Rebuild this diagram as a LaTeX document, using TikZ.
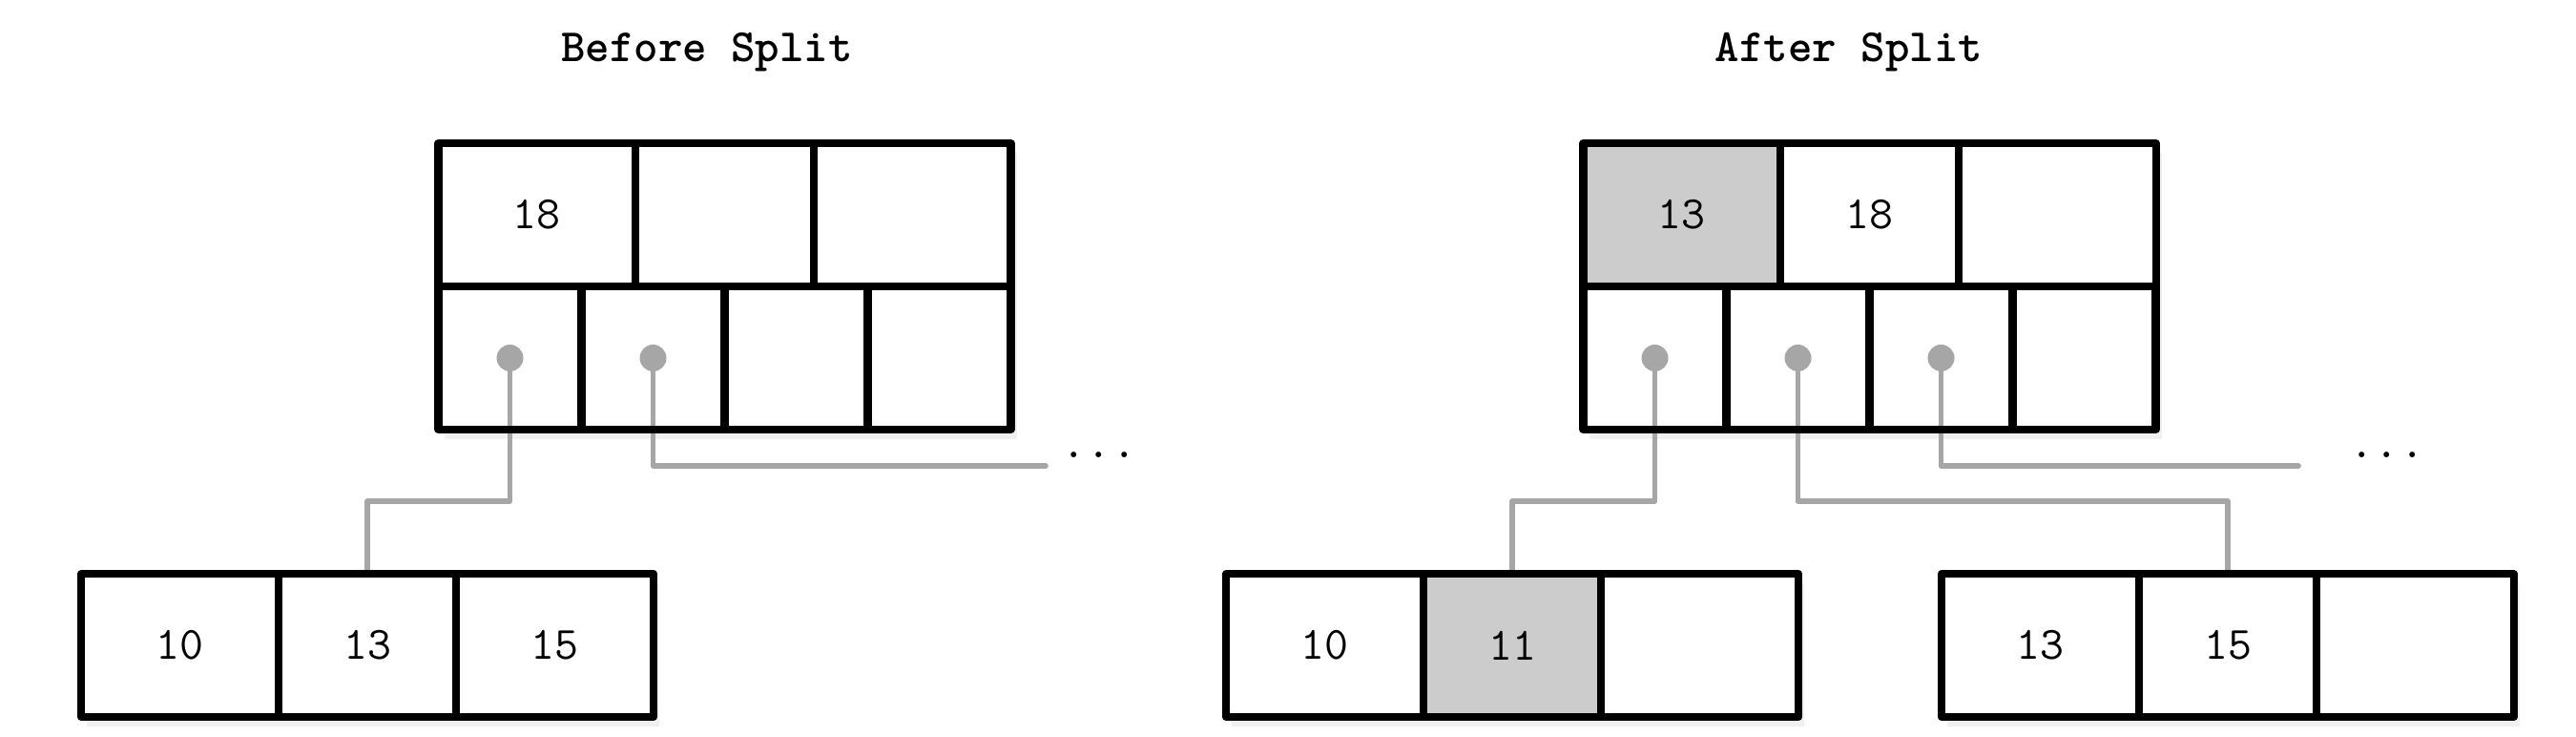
\documentclass[tikz,border=0pt]{standalone}
\usetikzlibrary{positioning,fit,shadows,backgrounds}

\begin{document}
\begin{tikzpicture}[
  cell/.style={draw, line width=2.3pt, line join=round, outer sep=0pt, inner sep=0pt, minimum height=1.5cm, font=\ttfamily\fontsize{13.8}{16}\selectfont},
  wide/.style={cell, minimum width=2.0675cm},
  slim/.style={cell, minimum width=1.865cm},
  ptr/.style={cell, minimum width=1.5cm},
  hit/.style={fill=black!20},
  title/.style={anchor=base, font=\ttfamily\bfseries\fontsize{13.8}{16}\selectfont},
  more/.style={inner sep=0pt, font=\fontsize{16.6}{20}\selectfont},
  link/.style={draw=black!35, line width=1.6pt, line cap=round, line join=round},
  ptrdot/.style={fill=black!35},
  boxshadow/.style={inner sep=0pt, fill=white, drop shadow={shadow xshift=0.06cm, shadow yshift=-0.1cm, opacity=0.12}}
]
\useasboundingbox (0,0) rectangle (27,7.71);

% before split
\node[title] (before) at (7.41,7.06) {Before Split};
\node[wide, anchor=north west] (tl-k1) at (4.595,6.21) {18};
\node[slim, right=0pt of tl-k1] (tl-k2) {};
\node[wide, right=0pt of tl-k2] (tl-k3) {};
\node[ptr, anchor=north west] (tl-p1) at (tl-k1.south west) {};
\node[ptr, right=0pt of tl-p1] (tl-p2) {};
\node[ptr, right=0pt of tl-p2] (tl-p3) {};
\node[ptr, right=0pt of tl-p3] (tl-p4) {};

\node[wide, anchor=north west] (bl-k1) at (0.85,1.70) {10};
\node[slim, right=0pt of bl-k1] (bl-k2) {13};
\node[wide, right=0pt of bl-k2] (bl-k3) {15};

\coordinate (tl-end) at (10.96,2.83);
\node[more] (tl-more) at (11.52,2.94) {$\ldots$};

% after split
\node[title] (after) at (19.38,7.06) {After Split};
\node[wide, hit, anchor=north west] (tr-k1) at (16.595,6.21) {13};
\node[slim, right=0pt of tr-k1] (tr-k2) {18};
\node[wide, right=0pt of tr-k2] (tr-k3) {};
\node[ptr, anchor=north west] (tr-p1) at (tr-k1.south west) {};
\node[ptr, right=0pt of tr-p1] (tr-p2) {};
\node[ptr, right=0pt of tr-p2] (tr-p3) {};
\node[ptr, right=0pt of tr-p3] (tr-p4) {};

\node[wide, anchor=north west] (bm-k1) at (12.85,1.70) {10};
\node[slim, hit, right=0pt of bm-k1] (bm-k2) {11};
\node[wide, right=0pt of bm-k2] (bm-k3) {};

\node[wide, anchor=north west] (br-k1) at (20.35,1.70) {13};
\node[slim, right=0pt of br-k1] (br-k2) {15};
\node[wide, right=0pt of br-k2] (br-k3) {};

\coordinate (tr-end) at (24.09,2.83);
\node[more] (tr-more) at (25.02,2.94) {$\ldots$};

\fill[ptrdot] (tl-p1.center) circle (0.14cm);
\fill[ptrdot] (tl-p2.center) circle (0.14cm);
\fill[ptrdot] (tr-p1.center) circle (0.14cm);
\fill[ptrdot] (tr-p2.center) circle (0.14cm);
\fill[ptrdot] (tr-p3.center) circle (0.14cm);

\begin{scope}[on background layer]
  \node[boxshadow, fit=(tl-k1)(tl-p4)] {};
  \node[boxshadow, fit=(bl-k1)(bl-k3)] {};
  \node[boxshadow, fit=(tr-k1)(tr-p4)] {};
  \node[boxshadow, fit=(bm-k1)(bm-k3)] {};
  \node[boxshadow, fit=(br-k1)(br-k3)] {};
  \draw[link] (tl-p1.center) -- ++(0,-1.5) -| (bl-k2.north);
  \draw[link] (tl-p2.center) |- (tl-end);
  \draw[link] (tr-p1.center) -- ++(0,-1.5) -| (bm-k2.north);
  \draw[link] (tr-p2.center) -- ++(0,-1.5) -| (br-k2.north);
  \draw[link] (tr-p3.center) |- (tr-end);
\end{scope}
\end{tikzpicture}
\end{document}
